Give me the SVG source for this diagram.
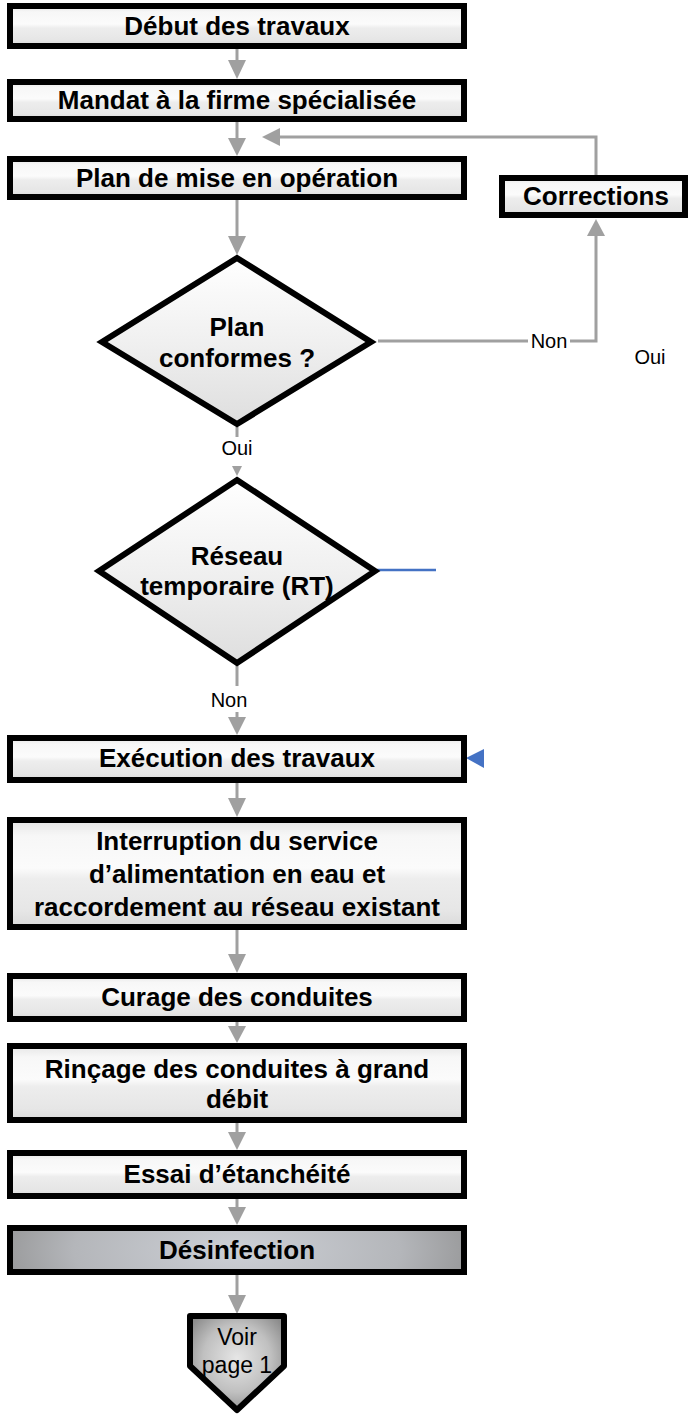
<svg xmlns="http://www.w3.org/2000/svg" width="688" height="1414" viewBox="0 0 688 1414">
<defs>
<linearGradient id="gBox" x1="0" y1="0" x2="0" y2="1">
<stop offset="0" stop-color="#e6e6e6"/>
<stop offset="0.15" stop-color="#f7f7f7"/>
<stop offset="0.45" stop-color="#fbfbfb"/>
<stop offset="0.55" stop-color="#ededed"/>
<stop offset="0.85" stop-color="#e6e6e6"/>
<stop offset="1" stop-color="#dadada"/>
</linearGradient>
<linearGradient id="gDia" x1="0" y1="0" x2="0" y2="1">
<stop offset="0" stop-color="#ffffff"/>
<stop offset="0.5" stop-color="#f0f0f0"/>
<stop offset="1" stop-color="#dedede"/>
</linearGradient>
<radialGradient id="gDis" cx="0.5" cy="0.5" r="0.6" gradientTransform="translate(0.5,0.5) scale(1,4) translate(-0.5,-0.5)">
<stop offset="0" stop-color="#cdd0d6"/>
<stop offset="0.6" stop-color="#b4b6ba"/>
<stop offset="1" stop-color="#8a8a8a"/>
</radialGradient>
<radialGradient id="gVoir" cx="0.5" cy="0.45" r="0.6">
<stop offset="0" stop-color="#e6e6e6"/>
<stop offset="0.6" stop-color="#c0c0c0"/>
<stop offset="1" stop-color="#8c8c8c"/>
</radialGradient>
</defs>
<style>
.box{fill:url(#gBox);stroke:#000;stroke-width:6}
.dia{fill:url(#gDia);stroke:#000;stroke-width:6;stroke-linejoin:miter}
.t{font-family:"Liberation Sans",Arial,sans-serif;font-weight:bold;font-size:26px;fill:#000;text-anchor:middle}
.lab{font-family:"Liberation Sans",Arial,sans-serif;font-size:20px;fill:#000;text-anchor:middle}
.ln{fill:none;stroke:#a0a0a0;stroke-width:3}
.ah{fill:#a0a0a0}
</style>

<g id="connectors">
<line class="ln" x1="237" y1="49" x2="237" y2="62"/>
<polygon class="ah" points="228,60 246,60 237,79"/>
<line class="ln" x1="237" y1="122" x2="237" y2="140"/>
<polygon class="ah" points="228,138 246,138 237,156"/>
<line class="ln" x1="237" y1="200" x2="237" y2="238"/>
<polygon class="ah" points="228,236 246,236 237,255"/>
<line class="ln" x1="237" y1="427" x2="237" y2="437"/>
<text class="lab" x="237" y="455">Oui</text>
<polygon class="ah" points="232,466 242,466 237,476"/>
<line class="ln" x1="237" y1="665" x2="237" y2="686"/>
<text class="lab" x="229" y="707">Non</text>
<line class="ln" x1="237" y1="712" x2="237" y2="720"/>
<polygon class="ah" points="228,717 246,717 237,735"/>
<line class="ln" x1="237" y1="783" x2="237" y2="800"/>
<polygon class="ah" points="228,798 246,798 237,817"/>
<line class="ln" x1="237" y1="930" x2="237" y2="956"/>
<polygon class="ah" points="228,954 246,954 237,973"/>
<line class="ln" x1="237" y1="1022" x2="237" y2="1028"/>
<polygon class="ah" points="228,1026 246,1026 237,1043"/>
<line class="ln" x1="237" y1="1123" x2="237" y2="1135"/>
<polygon class="ah" points="228,1132 246,1132 237,1150"/>
<line class="ln" x1="237" y1="1199" x2="237" y2="1210"/>
<polygon class="ah" points="228,1207 246,1207 237,1225"/>
<line class="ln" x1="237" y1="1275" x2="237" y2="1298"/>
<polygon class="ah" points="228,1295 246,1295 237,1314"/>
<polyline class="ln" points="596,177 596,137 278,137"/>
<polygon class="ah" points="280,128 280,146 262,137"/>
<line class="ln" x1="378" y1="341" x2="528" y2="341"/>
<text class="lab" x="549" y="348">Non</text>
<polyline class="ln" points="570,341 596,341 596,234"/>
<polygon class="ah" points="587,236 605,236 596,219"/>
<line x1="377" y1="570" x2="436" y2="570" stroke="#4472c4" stroke-width="2.5"/>
<polygon points="466,758 484,749 484,768" fill="#4472c4"/>
</g>

<text id="oui-right" class="lab" x="650" y="364">Oui</text>

<g id="n-debut"><rect class="box" x="10" y="6" width="454" height="40"/><text class="t" x="237" y="35">Début des travaux</text></g>
<g id="n-mandat"><rect class="box" x="10" y="82" width="454" height="37"/><text class="t" x="237" y="109">Mandat à la firme spécialisée</text></g>
<g id="n-plan"><rect class="box" x="10" y="159" width="454" height="38"/><text class="t" x="237" y="187">Plan de mise en opération</text></g>
<g id="n-corrections"><rect class="box" x="502" y="178" width="183" height="37"/><text class="t" x="596" y="205">Corrections</text></g>
<g id="n-conformes"><polygon class="dia" points="237,258 371,342 237,424 102,342"/><text class="t" x="237" y="336">Plan</text><text class="t" x="237" y="367">conformes ?</text></g>
<g id="n-reseau"><polygon class="dia" points="237,480 375,571 237,663 99,571"/><text class="t" x="237" y="565">Réseau</text><text class="t" x="237" y="595">temporaire (RT)</text></g>
<g id="n-execution"><rect class="box" x="10" y="738" width="454" height="42"/><text class="t" x="237" y="767">Exécution des travaux</text></g>
<g id="n-interruption"><rect class="box" x="10" y="820" width="454" height="107"/><text class="t" x="237" y="850">Interruption du service</text><text class="t" x="237" y="883">d’alimentation en eau et</text><text class="t" x="237" y="916">raccordement au réseau existant</text></g>
<g id="n-curage"><rect class="box" x="10" y="976" width="454" height="43"/><text class="t" x="237" y="1006">Curage des conduites</text></g>
<g id="n-rincage"><rect class="box" x="10" y="1046" width="454" height="74"/><text class="t" x="237" y="1078">Rinçage des conduites à grand</text><text class="t" x="237" y="1108">débit</text></g>
<g id="n-essai"><rect class="box" x="10" y="1153" width="454" height="43"/><text class="t" x="237" y="1183">Essai d’étanchéité</text></g>
<g id="n-desinfection"><rect x="10" y="1228" width="454" height="44" fill="url(#gDis)" stroke="#000" stroke-width="6"/><text class="t" x="237" y="1259">Désinfection</text></g>
<g id="n-voir"><polygon points="190,1316 284,1316 284,1366 237,1410 190,1366" fill="url(#gVoir)" stroke="#000" stroke-width="6" stroke-linejoin="round"/><text font-family="Liberation Sans, Arial, sans-serif" font-size="23" text-anchor="middle" x="237" y="1345">Voir</text><text font-family="Liberation Sans, Arial, sans-serif" font-size="23" text-anchor="middle" x="237" y="1373">page 1</text></g>
</svg>
